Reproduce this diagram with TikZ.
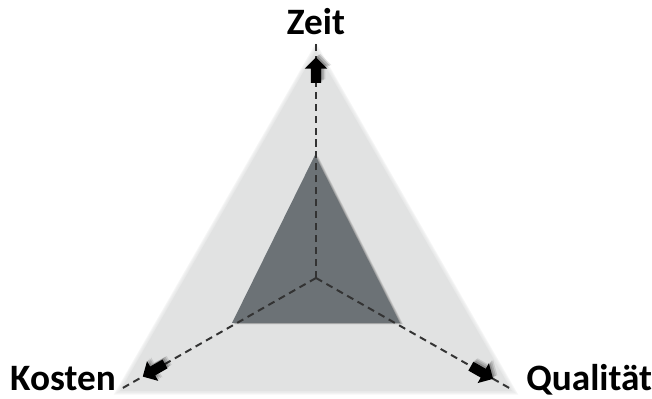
\documentclass[tikz,border=0pt]{standalone}
\usepackage{fontspec}
\setmainfont{Carlito}
\usetikzlibrary{shapes.arrows}

\definecolor{outergray}{HTML}{E1E2E2}
\definecolor{innergray}{HTML}{6C7276}
\definecolor{axisgray}{HTML}{333333}

\begin{document}
\begin{tikzpicture}
	[
	x=0.025cm, y=-0.025cm,
	titel/.style={
		font=\fontsize{26.5}{32}\selectfont\bfseries,
		inner sep=0pt,
		text depth=0pt
	},
	axis/.style={
		draw=axisgray,
		line width=1.4pt,
		dash pattern=on 5pt off 3.5pt
	},
	blockarrow/.style={
		single arrow,
		fill=black,
		draw=none,
		solid,
		inner sep=2.9pt,
		minimum height=0.64cm,
		single arrow head extend=4.5pt,
		preaction={fill=black, fill opacity=0.18,
			transform canvas={shift={(1pt,1pt)}}},
		preaction={fill=black, fill opacity=0.14,
			transform canvas={shift={(2pt,2pt)}}},
		preaction={fill=black, fill opacity=0.10,
			transform canvas={shift={(3pt,2.5pt)}}}
	}
	]
	
	\useasboundingbox (0,0) rectangle (652,399);
	
	% centre and axis ends
	\coordinate (o) at (316,278);
	\coordinate (zeit_end) at (316,42);
	\coordinate (kosten_end) at (121,389);
	\coordinate (qualitaet_end) at (511,389);
	
	% outer triangle, soft edge
	\foreach \r in {4,3,2,1}
	\fill[outergray, opacity=0.3, scale around={1+\r*0.008:(o)}]
	(316,50) -- (120,391) -- (512,391) -- cycle;
	\fill[outergray] (316,50) -- (120,391) -- (512,391) -- cycle;
	
	% inner triangle with shadow
	\foreach \s in {1,...,5}
	\fill[black, opacity=0.07, xshift=\s*0.45pt, yshift=-\s*0.2pt]
	(315,155) -- (232,323) -- (400,323) -- cycle;
	\fill[innergray] (315,155) -- (232,323) -- (400,323) -- cycle;
	
	% labels
	\node[titel, anchor=base] (zeit) at (316,35) {Zeit};
	\node[titel, anchor=base east] (kosten) at (116,391) {Kosten};
	\node[titel, anchor=base west] (qualitaet) at (526,391) {Qualität};
	
	% axes
	\draw[axis] (o) -- (zeit_end)
	node[blockarrow, sloped, allow upside down, pos=0.87] (zeit_arrow) {};
	\draw[axis] (o) -- (kosten_end)
	node[blockarrow, sloped, allow upside down, pos=0.82] (kosten_arrow) {};
	\draw[axis] (o) -- (qualitaet_end)
	node[blockarrow, sloped, allow upside down, pos=0.84] (qualitaet_arrow) {};
	
\end{tikzpicture}
\end{document}
